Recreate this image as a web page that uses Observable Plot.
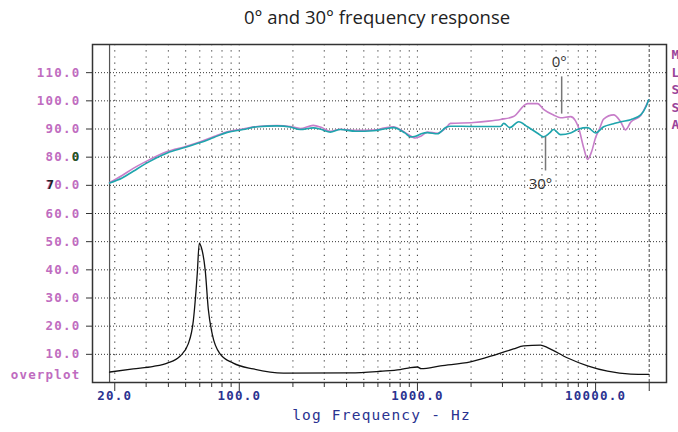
<!DOCTYPE html>
<html><head><meta charset="utf-8">
<script src="https://cdn.jsdelivr.net/npm/d3@7"></script>
<script src="https://cdn.jsdelivr.net/npm/@observablehq/plot@0.6"></script>
<style>
body{margin:0;background:#fff;}
#title{width:678px;height:34px;line-height:34px;box-sizing:border-box;padding-left:76px;text-align:center;font-family:"Open Sans",Lato,sans-serif;font-size:18.5px;color:#222;}
#chart svg{display:block;}
</style></head><body>
<div id="title">0° and 30° frequency response</div>
<div id="chart"></div>
<script>
// ---- data ----
const freq0 = [18.7,22,25.4,30,39.4,50,60.4,72,85.6,105,126,163,193,220,260,290,324,369,450,566,650,733,850,975,1050,1138,1295,1450,1531,2063,2500,2926,3459,4150,4722,5103,5807,6357,7240,7700,8020,8600,9016,9500,10000,10500,11090,12620,13810,14740,15730,17910,19870];
const spl0  = [71.0,73.5,76.0,78.5,82.0,83.8,85.5,87.3,89.0,90.0,90.9,91.2,90.9,90.2,91.3,90.5,89.2,89.9,89.5,89.6,90.3,90.8,88.8,86.8,87.5,88.9,88.5,90.5,92.0,92.3,92.8,93.4,94.4,99.0,99.0,97.0,95.0,94.0,94.4,93.0,90.5,83.0,79.2,82.0,87.0,90.0,93.5,95.0,92.6,89.7,92.4,94.8,100.4];
const freq30 = [18.7,22,25.4,30,39.4,50,60.4,72,85.6,105,126,163,193,220,260,290,324,369,450,566,650,733,850,914,975,1050,1138,1295,1450,1531,2063,2926,3050,3300,3700,4150,4722,5103,5500,5807,6357,7240,8020,9016,10000,11090,12620,13810,15730,17910,19200,19870];
const spl30  = [70.8,72.6,75.0,77.8,81.5,83.5,85.2,87.0,88.8,89.8,90.8,91.1,90.7,89.8,90.4,89.8,88.9,89.8,89.2,89.4,90.0,90.5,88.6,87.2,87.4,88.3,88.7,88.3,90.6,91.0,90.9,90.9,92.0,90.5,92.6,90.8,88.5,87.2,88.5,89.8,88.0,88.6,90.0,90.5,88.6,90.8,91.9,92.6,93.3,95.0,98.0,100.4];
const freqImp = [18.7,25.4,33,39.4,46.6,51.7,55.2,58.1,59.6,61.2,64.4,67,70.5,78.2,92.5,119.8,177,420,620,800,914,1000,1050,1346,1985,2812,3459,3945,4911,5370,6970,9016,11670,15730,19870];
const imp     = [3.7,4.8,5.7,6.9,9.4,13.7,21.9,38.7,49.4,48.0,39.8,26.0,17.2,10.1,6.9,4.8,3.3,3.4,4.0,4.6,5.3,5.5,4.9,5.9,7.3,10.1,11.9,13.0,13.3,12.4,8.7,5.9,4.0,3.0,2.9];
const yTicks = [10,20,30,40,50,60,70,80,90,100,110];
const xLabelTicks = [20,100,1000,10000];
const gridFreqs = [20,30,40,50,60,70,80,90,100,200,300,400,500,600,700,800,900,1000,2000,3000,4000,5000,6000,7000,8000,9000,10000];
const sideLetters = ["M","L","S","S","A"];
const sideLetterDb = [116.5,110.1,104.0,97.6,91.5];

const purple = "#c06cc0";
const blue = "#2a3290";
const mono = "DejaVu Sans Mono";

const l0 = freq0.map((f,i)=>({f, v:spl0[i]}));
const l30 = freq30.map((f,i)=>({f, v:spl30[i]}));
const lImp = freqImp.map((f,i)=>({f, v:imp[i]}));

const chart = Plot.plot({
  width: 678, height: 398,
  marginTop: 10, marginBottom: 50, marginLeft: 92, marginRight: 12,
  x: {type: "log", domain: [15, 25000], label: null},
  y: {domain: [0, 120], label: null},
  marks: [
    Plot.ruleY(yTicks, {stroke: "#333", strokeDasharray: "1,2", strokeWidth: 1}),
    Plot.ruleX(gridFreqs, {stroke: "#444", strokeDasharray: "1.2,5", strokeWidth: 1.1}),
    Plot.ruleX([18.7], {stroke: "#555", strokeWidth: 1.2}),
    Plot.ruleX([20000], {stroke: "#666", strokeDasharray: "3,2", strokeWidth: 1.2}),
    Plot.frame({stroke: "#333", strokeWidth: 1.5}),
    Plot.axisY({ticks: yTicks, tickSize: 6, tickFormat: () => "", stroke: "#333"}),
    Plot.axisX({ticks: gridFreqs.filter(d => !xLabelTicks.includes(d)), tickSize: 5, tickFormat: () => "", stroke: "#333"}),
    Plot.axisX({ticks: [...xLabelTicks, 20000], tickSize: 9, tickFormat: () => "", stroke: "#333"}),
    Plot.line(lImp, {x: "f", y: "v", stroke: "#111", strokeWidth: 1.3, curve: "monotone-x"}),
    Plot.line(l0, {x: "f", y: "v", stroke: "#c77dc9", strokeWidth: 1.6, curve: "monotone-x"}),
    Plot.line(l30, {x: "f", y: "v", stroke: "#1fa5ad", strokeWidth: 1.6, curve: "monotone-x"}),
    // y tick labels
    Plot.text(yTicks, {y: d => d, frameAnchor: "left", dx: -12, textAnchor: "end", text: d => d.toFixed(1), fill: purple, fontFamily: mono, fontWeight: "bold", fontSize: 12.5}),
    Plot.text([80], {y: d => d, frameAnchor: "left", dx: -12, textAnchor: "end", text: () => "0", fill: "#1d5a1d", fontFamily: mono, fontWeight: "bold", fontSize: 12.5}),
    Plot.text([70], {y: d => d, frameAnchor: "left", dx: -46, textAnchor: "start", text: () => "7", fill: "#222", fontFamily: mono, fontWeight: "bold", fontSize: 12.5}),
    Plot.text(["overplot"], {frameAnchor: "bottom-left", dx: -12, dy: -4, textAnchor: "end", fill: purple, fontFamily: mono, fontWeight: "bold", fontSize: 12.5}),
    // x tick labels
    Plot.text(xLabelTicks, {x: d => d, frameAnchor: "bottom", dy: 17, text: d => d.toFixed(1), fill: blue, fontFamily: mono, fontWeight: "bold", fontSize: 12.5}),
    Plot.text(["log Frequency - Hz"], {frameAnchor: "bottom", dx: 2, dy: 37, fill: blue, fontFamily: mono, fontSize: 14.5}),
    // side letters
    Plot.text(sideLetters, {y: (d,i) => sideLetterDb[i], frameAnchor: "right", dx: 5, textAnchor: "start", fill: "#9a449a", fontFamily: mono, fontWeight: "bold", fontSize: 13}),
    // annotations
    Plot.ruleX([{x: 6450, y1: 95.3, y2: 108.5}], {x: "x", y1: "y1", y2: "y2", stroke: "#777", strokeWidth: 1.5}),
    Plot.ruleX([{x: 5235, y1: 75.1, y2: 87.2}], {x: "x", y1: "y1", y2: "y2", stroke: "#777", strokeWidth: 1.5}),
    Plot.text([{x: 6250, y: 113.6, t: "0°"}], {x: "x", y: "y", text: "t", fill: "#333", fontFamily: "Open Sans", fontSize: 15}),
    Plot.text([{x: 4900, y: 70.4, t: "30°"}], {x: "x", y: "y", text: "t", fill: "#333", fontFamily: "Open Sans", fontSize: 15})
  ]
});
document.getElementById("chart").appendChild(chart);
d3.select(chart).selectAll("g").filter(function(){ return (this.getAttribute("font-family")||"").includes("Mono"); })
  .selectAll("text").style("letter-spacing", "1.2px");
</script>
</body></html>
